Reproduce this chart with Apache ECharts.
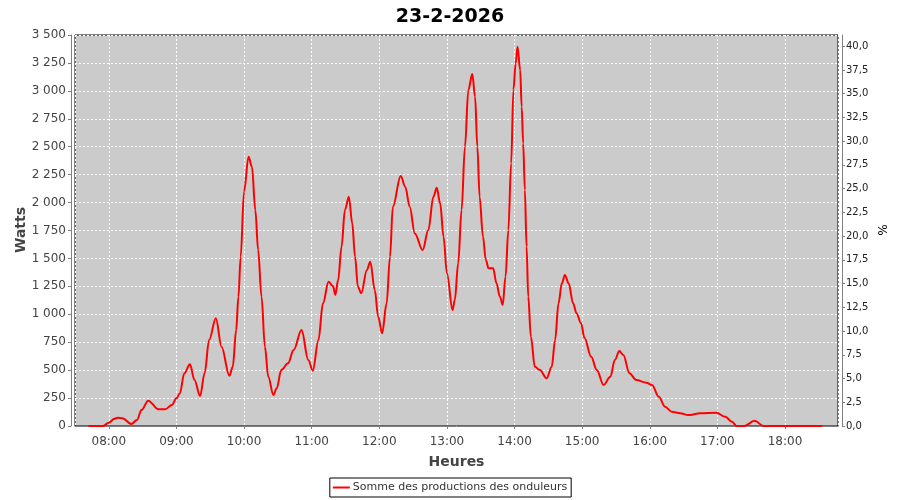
<!DOCTYPE html>
<html>
<head>
<meta charset="utf-8">
<script src="https://cdn.jsdelivr.net/npm/echarts@6/dist/echarts.min.js"></script>
<style>html,body{margin:0;padding:0;background:#fff}#c{width:900px;height:500px}</style>
</head>
<body>
<div id="c"></div>
<script>
const titleText = '23-2-2026';
const day = '2026-02-23';
const seriesName = 'Somme des productions des onduleurs';
const leftAxisName = 'Watts';
const rightAxisName = '%';
const xAxisName = 'Heures';
const times = ['07:42','07:55','08:00','08:05','08:08','08:12','08:20','08:25','08:29','08:35','08:44','08:50','08:56','09:00','09:03','09:07','09:12','09:16','09:21','09:25','09:29','09:35','09:40','09:47','09:50','09:53','09:55','09:57','10:00','10:04','10:07','10:10','10:12:30','10:15:30','10:18:30','10:21:30','10:26','10:29','10:33','10:39','10:44','10:51','10:57','11:01','11:06','11:10','11:15','11:19','11:21','11:23:30','11:26:30','11:29:30','11:33','11:36','11:38:30','11:41','11:44','11:49','11:52','11:56','11:59','12:02:30','12:06:30','12:09:30','12:12','12:19','12:23','12:27','12:31:30','12:38:30','12:43:30','12:48','12:51','12:54','12:57','13:00','13:05','13:07','13:10','13:13','13:16','13:19','13:22:30','13:25','13:27','13:29','13:32','13:34:30','13:37','13:41','13:44','13:47','13:49:30','13:52','13:54:30','13:57','13:59','14:01','14:02:40','14:05','14:06:20','14:07:40','14:09:10','14:10:40','14:12:10','14:14:30','14:18','14:22:30','14:28:30','14:33','14:36','14:39','14:42','14:44:40','14:48','14:52','14:55','14:59','15:02','15:08','15:13','15:19','15:25','15:29','15:33','15:36:30','15:42','15:48','15:57','16:02','16:08','16:13:30','16:19:30','16:27','16:34','16:45','16:59','17:07','17:13','17:17','17:24','17:33','17:41','18:33'];
const watts = [0,0,30,65,74,70,18,54,143,227,150,150,188,248,292,472,552,412,268,472,770,964,710,450,531,859,1157,1515,2100,2411,2321,1933,1575,1157,710,441,277,337,501,561,680,859,591,495,770,1098,1292,1250,1173,1307,1605,1933,2052,1814,1515,1247,1188,1396,1471,1217,978,830,1098,1515,1963,2238,2142,1963,1724,1575,1754,2052,2133,1993,1694,1367,1038,1128,1456,1933,2500,3008,3151,2948,2500,2052,1694,1486,1411,1411,1277,1157,1083,1336,1754,2351,3008,3247,3395,3187,2858,2530,2112,1605,1157,799,531,501,427,531,770,1098,1277,1352,1277,1098,1009,920,790,620,501,367,441,591,671,636,472,412,388,367,262,173,128,114,98,114,119,83,38,0,0,47,0,0];
const wattsTicksMax = 3500;
const percentMax = 3500 / 85;

const data = times.map((t, i) => {
  const hms = t.length === 5 ? t + ':00' : t;
  return [new Date(day + 'T' + hms).getTime(), watts[i]];
});
const xMin = new Date(day + 'T07:30:00').getTime();
const xMax = new Date(day + 'T18:47:00').getTime();

const chart = echarts.init(document.getElementById('c'), null, {renderer: 'canvas'});
const axisGray = '#808080';
const fontFam = '"DejaVu Sans", sans-serif';
chart.setOption({
  animation: false,
  backgroundColor: '#fff',
  title: {
    text: titleText, left: 'center', top: 3,
    textStyle: {fontFamily: fontFam, fontWeight: 'bold', fontSize: 19, color: '#000'}
  },
  legend: {
    bottom: 3, left: 'center',
    borderColor: '#000', borderWidth: 1, padding: [4, 4, 4, 3],
    itemWidth: 17, itemHeight: 2, itemGap: 4,
    icon: 'rect',
    textStyle: {fontFamily: fontFam, fontSize: 11, color: '#333', padding: [0, 0, 0, -2]},
    data: [seriesName]
  },
  graphic: [{
    type: 'text', x: 21, y: 230, rotation: Math.PI / 2,
    style: {text: leftAxisName, fontFamily: fontFam, fontWeight: 'bold', fontSize: 14, fill: '#444', textAlign: 'center', textVerticalAlign: 'middle'}
  }, {
    type: 'text', x: 881, y: 230, rotation: -Math.PI / 2,
    style: {text: rightAxisName, fontFamily: fontFam, fontSize: 12, fill: '#000', textAlign: 'center', textVerticalAlign: 'middle'}
  }],
  grid: {
    left: 75, right: 62, top: 35, bottom: 74,
    show: true, backgroundColor: '#cbcbcb', borderColor: '#000', borderWidth: 1
  },
  xAxis: {
    type: 'time', min: xMin, max: xMax, offset: 4,
    minInterval: 3600000, maxInterval: 3600000,
    name: xAxisName, nameLocation: 'middle', nameGap: 25,
    nameTextStyle: {fontFamily: fontFam, fontWeight: 'bold', fontSize: 14, color: '#444'},
    axisLine: {show: true, lineStyle: {color: axisGray, width: 1}},
    axisTick: {show: true, length: 3, lineStyle: {color: axisGray}},
    axisLabel: {
      fontFamily: fontFam, fontSize: 12, color: '#444', margin: 6,
      formatter: function (v) { const d = new Date(v); return String(d.getHours()).padStart(2, '0') + ':' + String(d.getMinutes()).padStart(2, '0'); }
    },
    splitLine: {show: true, lineStyle: {color: '#fff', type: [2, 2], width: 1}}
  },
  yAxis: [{
    type: 'value', min: 0, max: wattsTicksMax, interval: 250, offset: 4,
    axisLine: {show: true, lineStyle: {color: axisGray, width: 1}},
    axisTick: {show: true, length: 3, lineStyle: {color: axisGray}},
    axisLabel: {
      fontFamily: fontFam, fontSize: 12, color: '#444', margin: 5,
      formatter: function (v) { return String(v).replace(/\B(?=(\d{3})+(?!\d))/g, ' '); }
    },
    splitLine: {show: true, lineStyle: {color: '#fff', type: [2, 2], width: 1}}
  }, {
    type: 'value', min: 0, max: percentMax, interval: 2.5, offset: 4, position: 'right',
    axisLine: {show: true, lineStyle: {color: axisGray, width: 1}},
    axisTick: {show: true, length: 3, lineStyle: {color: axisGray}},
    axisLabel: {
      fontFamily: fontFam, fontSize: 10, color: '#222', margin: 4, showMaxLabel: false,
      formatter: function (v) { return v.toFixed(1).replace('.', ','); }
    },
    splitLine: {show: false}
  }],
  series: [{
    name: seriesName, type: 'line', yAxisIndex: 0,
    data: data, showSymbol: false, smooth: 0.35, smoothMonotone: 'x',
    lineStyle: {color: '#ff0000', width: 2},
    itemStyle: {color: '#ff0000'}
  }]
});
</script>
</body>
</html>
